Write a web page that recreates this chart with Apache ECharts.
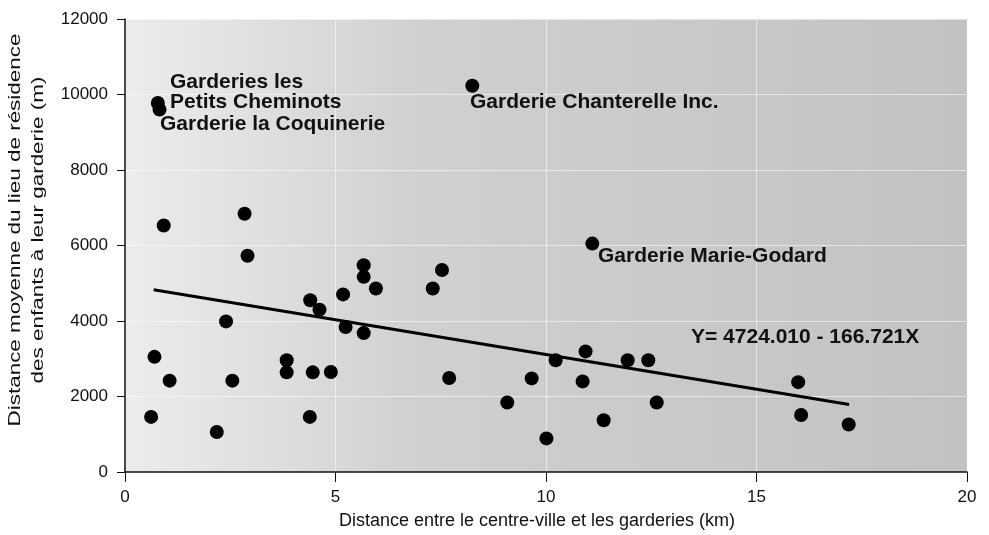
<!DOCTYPE html>
<html>
<head>
<meta charset="utf-8">
<title>Distance garderies</title>
<script src="https://cdn.jsdelivr.net/npm/echarts/dist/echarts.min.js"></script>
<style>
  html, body { margin: 0; padding: 0; background: #fff; }
  #chart { width: 989px; height: 535px; }
</style>
</head>
<body>
<div id="chart"></div>
<script>
// distance centre-ville -> garderie (km)
const distKm = [
  0.78, 0.82, 8.25,
  0.92, 2.84, 2.91, 2.40, 4.40, 4.62, 5.18, 5.67, 5.67, 5.96, 5.24, 5.67, 7.31, 7.53,
  0.70, 1.06, 0.62, 2.18, 2.55, 3.84, 3.84, 4.46, 4.89, 4.39, 7.70,
  9.08, 9.66, 10.01, 10.23, 10.94, 10.87, 11.10, 11.37, 11.94, 12.43, 12.63,
  15.99, 16.06, 17.19
];
// distance moyenne lieu de résidence -> garderie (m)
const distM = [
  9775, 9600, 10230,
  6530, 6840, 5730, 3990, 4550, 4300, 4705, 5480, 5170, 4860, 3840, 3680, 4860, 5350,
  3050, 2420, 1460, 1060, 2420, 2960, 2640, 2640, 2650, 1460, 2490,
  1840, 2480, 890, 2960, 3195, 2400, 6050, 1370, 2960, 2960, 1840,
  2380, 1510, 1260
];
// droite de régression telle que tracée
const fitX = [0.68, 17.2];
const fitY = [4830, 1790];

const yMax = 12000;

const font = "'Liberation Sans', Arial, sans-serif";

const chart = echarts.init(document.getElementById("chart"));

const note = (x, y, text) => ({
  type: "text",
  left: x,
  top: y,
  style: { text: text, font: "bold 21px " + font, fill: "#111" },
  z: 100,
});

chart.setOption({
  animation: false,
  grid: {
    left: 125,
    right: 22,
    top: 19,
    bottom: 63,
    containLabel: false,
    outerBoundsMode: "none",
    show: true,
    borderWidth: 0,
    backgroundColor: new echarts.graphic.LinearGradient(0, 0, 1, 0, [
      { offset: 0, color: "#ececec" },
      { offset: 0.35, color: "#d0d0d0" },
      { offset: 1, color: "#c2c2c2" },
    ]),
  },
  xAxis: {
    type: "value",
    min: 0,
    max: 20,
    interval: 5,
    name: "Distance entre le centre-ville et les garderies (km)",
    nameLocation: "middle",
    nameGap: 40,
    nameTextStyle: { fontFamily: font, fontSize: 18, color: "#111", padding: [0, 18, 0, 0] },
    axisLine: { show: true, lineStyle: { color: "#111", width: 1.5 } },
    axisTick: { show: true, length: 10, lineStyle: { color: "#111" } },
    axisLabel: { fontFamily: font, fontSize: 17, color: "#111", margin: 17 },
    splitLine: { show: true, lineStyle: { color: "rgba(255,255,255,0.55)", width: 1 } },
  },
  yAxis: {
    type: "value",
    min: 0,
    max: yMax,
    interval: 2000,
    axisLine: { show: true, lineStyle: { color: "#111", width: 1.5 } },
    axisTick: { show: true, length: 8, lineStyle: { color: "#111" } },
    axisLabel: {
      fontFamily: font,
      fontSize: 17,
      color: "#111",
      margin: 17,
      formatter: (v) => String(v),
    },
    splitLine: { show: true, lineStyle: { color: "rgba(255,255,255,0.55)", width: 1 } },
  },
  series: [
    {
      type: "scatter",
      symbol: "circle",
      symbolSize: 14,
      itemStyle: { color: "#000", opacity: 1 },
      data: distKm.map((x, i) => [x, distM[i]]),
      z: 3,
    },
    {
      type: "line",
      symbol: "none",
      lineStyle: { color: "#000", width: 3 },
      data: fitX.map((x, i) => [x, fitY[i]]),
      z: 2,
    },
  ],
  graphic: [
    {
      type: "text",
      x: 27,
      y: 230,
      rotation: Math.PI / 2,
      scaleX: 1.32,
      style: {
        text: "Distance moyenne du lieu de résidence\ndes enfants à leur garderie (m)",
        font: "17px " + font,
        lineHeight: 23,
        fill: "#111",
        align: "center",
        verticalAlign: "middle",
      },
    },
    note(170, 72, "Garderies les"),
    note(170, 92, "Petits Cheminots"),
    note(160, 114, "Garderie la Coquinerie"),
    note(470, 92, "Garderie Chanterelle Inc."),
    note(598, 246, "Garderie Marie-Godard"),
    note(691, 327, "Y= 4724.010 - 166.721X"),
  ],
});
</script>
</body>
</html>
